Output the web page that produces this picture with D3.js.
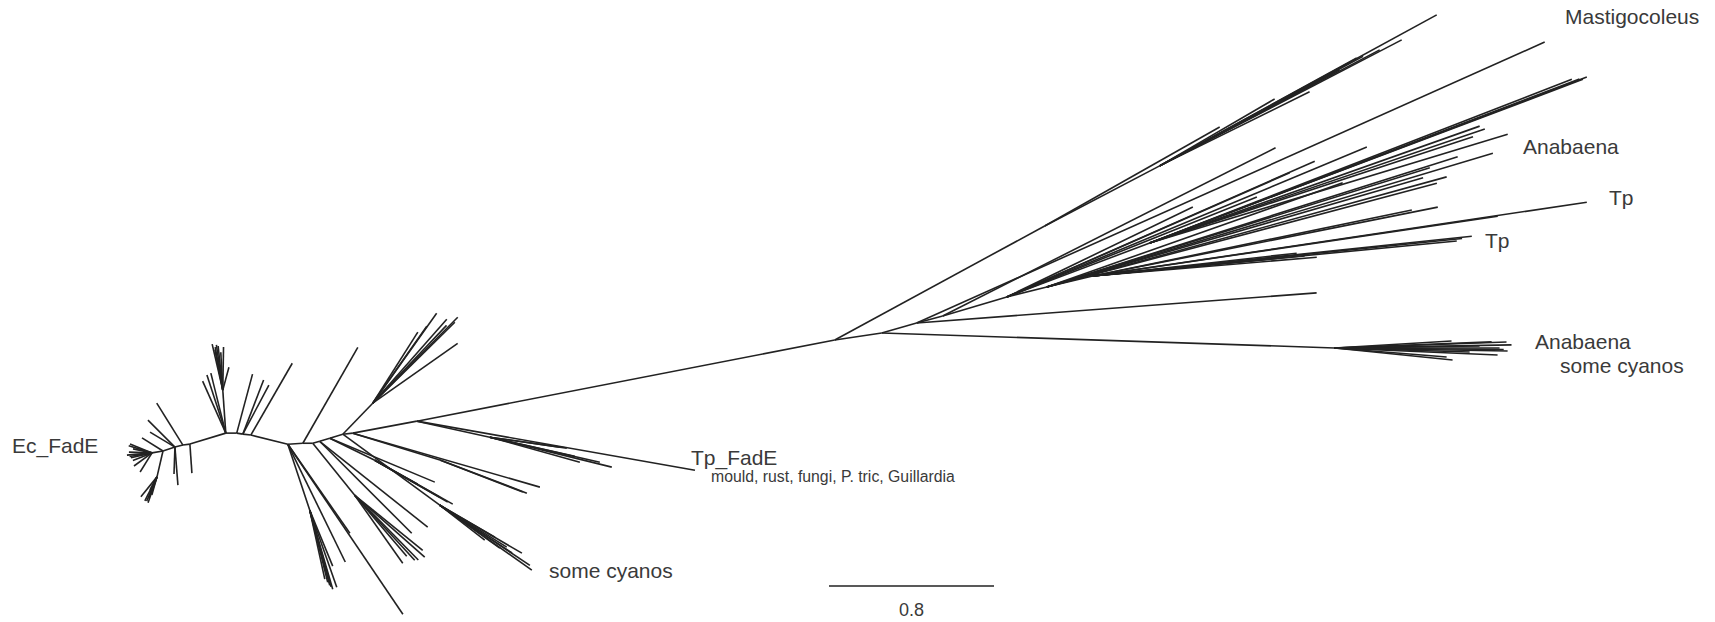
<!DOCTYPE html>
<html>
<head>
<meta charset="utf-8">
<script src="https://cdn.jsdelivr.net/npm/d3@7"></script>
<style>
  body { margin: 0; background: #fff; }
  svg { display: block; }
  .branch { stroke: #222; stroke-width: 1.6; stroke-linecap: butt; fill: none; }
  .lbl { font-family: "Liberation Sans", Arial, sans-serif; fill: #3a3a3a; }
</style>
</head>
<body>
<svg id="chart"></svg>
<script>
// branches: [id, parent, branch length, direction in degrees]
var backbone = [
  ["b0", null, 0, 0],
  ["b1", "b0", 0.054, -10],
  ["b2", "b1", 0.061, -18],
  ["b3", "b2", 0.040, -14],
  ["b4", "b3", 0.034, -8],
  ["b5", "b4", 0.182, -17],
  ["b6", "b5", 0.053, 0],
  ["b7", "b6", 0.030, 9],
  ["b8", "b7", 0.039, 7],
  ["b9", "b8", 0.185, 14],
  ["b10", "b9", 0.073, -4],
  ["b11", "b10", 0.048, 0],
  ["b12", "b11", 0.035, -16],
  ["b13", "b12", 0.051, -17],
  ["b14", "b13", 0.066, -17],
  ["b15", "b14", 0.049, -6],
  ["b16", "b15", 0.316, -10.6],
  ["r0", "b16", 2.064, -11.0],
  ["r1", "r0", 0.230, -8.5],
  ["r2", "r1", 0.176, -15.9],
  ["r3", "r2", 0.131, -15.1],
  ["r4", "r3", 0.324, -16.5],
  ["r5", "r4", 0.200, -14.0],
  ["r6", "r5", 0.229, -13.4]
]

var ecClade = [
  ["ec1", "b0", 0.115, -158],
  ["ec2", "b0", 0.112, -178],
  ["ec3", "b0", 0.105, 167],
  ["ec4", "b0", 0.108, 144],
  ["ec5", "b0", 0.109, 122],
  ["ec6", "b0", 0.094, -168],
  ["ec7", "b0", 0.122, 175],
  ["ec15", "b0", 0.118, -163],
  ["ec16", "b0", 0.110, 171],
  ["ec17", "b0", 0.100, 158],
  ["ed", "b1", 0.129, 103],
  ["ed1", "ed", 0.130, 117],
  ["ed2", "ed", 0.133, 109],
  ["ed3", "ed", 0.091, 106],
  ["ed4", "ed", 0.072, 118],
  ["ed5", "ed", 0.124, 129],
  ["ed6", "ed", 0.128, 113],
  ["ed7", "ed", 0.112, 111],
  ["ec8", "b1", 0.120, -148],
  ["ec9", "b2", 0.185, -135],
  ["ec10", "b2", 0.141, -149],
  ["ec11", "b2", 0.185, 85.5],
  ["ec12", "b2", 0.131, 92],
  ["ec13", "b3", 0.240, -122],
  ["ec14", "b4", 0.141, 86]
]

var upperLeft = [
  ["u1", "b5", 0.209, -94],
  ["u11", "u1", 0.229, -103],
  ["u12", "u1", 0.212, -100],
  ["u13", "u1", 0.215, -96],
  ["u14", "u1", 0.209, -89],
  ["u15", "u1", 0.184, -93],
  ["u16", "u1", 0.115, -75],
  ["u17", "u1", 0.222, -98],
  ["u18", "u1", 0.200, -101],
  ["u2", "b5", 0.276, -114],
  ["u3", "b5", 0.296, -108],
  ["u4", "b5", 0.300, -104],
  ["u5", "b6", 0.296, -75],
  ["u6", "b7", 0.281, -69],
  ["u7", "b7", 0.269, -62],
  ["u8", "b8", 0.402, -60],
  ["f2", "b10", 0.536, -60.2],
  ["f1", "b14", 0.209, -46],
  ["f11", "f1", 0.535, -54.6],
  ["f12", "f1", 0.408, -57.6],
  ["f13", "f1", 0.543, -48.6],
  ["f14", "f1", 0.586, -45.3],
  ["f15", "f1", 0.559, -44.6],
  ["f16", "f1", 0.504, -35.2],
  ["f17", "f1", 0.456, -54.9],
  ["f18", "f1", 0.520, -46.5]
]

var lowerFan = [
  ["l1", "b9", 0.337, 71.6],
  ["l11", "l1", 0.342, 77.7],
  ["l12", "l1", 0.376, 75.1],
  ["l13", "l1", 0.399, 73.8],
  ["l14", "l1", 0.396, 70.7],
  ["l15", "l1", 0.360, 76],
  ["l16", "l1", 0.293, 67.7],
  ["l17", "l1", 0.385, 74.5],
  ["l2", "b9", 0.635, 64],
  ["l3", "b9", 0.995, 55.9],
  ["l4", "b9", 0.526, 55.1],
  ["m1", "b11", 0.324, 51.1],
  ["m11", "m1", 0.404, 54.8],
  ["m12", "m1", 0.389, 49.6],
  ["m13", "m1", 0.429, 47.3],
  ["m14", "m1", 0.453, 41.5],
  ["m15", "m1", 0.424, 39],
  ["m18", "m1", 0.440, 45.5],
  ["m16", "b12", 0.669, 38.5],
  ["m17", "b12", 0.631, 45],
  ["c4", "b13", 0.243, 26.1],
  ["c41", "c4", 0.239, 29.2],
  ["c42", "c4", 0.434, 29.4],
  ["c43", "c4", 0.408, 29.9],
  ["c44", "c4", 0.363, 29.6],
  ["c45", "b13", 0.552, 22.7],
  ["s1", "b14", 0.583, 36.2],
  ["s11", "s1", 0.546, 35.2],
  ["s12", "s1", 0.525, 33.7],
  ["s13", "s1", 0.461, 30.3],
  ["s14", "s1", 0.358, 35.6],
  ["s15", "s1", 0.383, 32.1],
  ["s16", "s1", 0.276, 37.9],
  ["s17", "s1", 0.309, 30.2],
  ["s18", "s1", 0.420, 33.5],
  ["c6", "b15", 0.442, 17.2],
  ["c61", "c6", 0.451, 20.8],
  ["c62", "c6", 0.431, 21.1],
  ["c63", "b15", 0.944, 16.1]
]

var tpFadE = [
  ["tpf", "b16", 1.369, 10.0],
  ["t1", "b16", 0.362, 12.4],
  ["t11", "t1", 0.377, 8.1],
  ["t12", "t1", 0.453, 15.5],
  ["t13", "t1", 0.547, 12.8],
  ["t14", "t1", 0.609, 13.8],
  ["t15", "t1", 0.343, 8.1],
  ["t16", "t1", 0.422, 12.6]
]

var mastigo = [
  ["M1", "r0", 1.158, -28.5],
  ["M2", "M1", 0.629, -27.6],
  ["M21", "M2", 1.530, -28.6],
  ["M22", "M2", 1.323, -27.5],
  ["M23", "M2", 1.089, -28.7],
  ["M24", "M2", 0.811, -26.3],
  ["M25", "M2", 0.645, -30.2],
  ["M26", "M2", 1.206, -27.8],
  ["M27", "M2", 0.989, -28.1],
  ["M28", "M2", 1.120, -28.3],
  ["M11", "M1", 0.975, -29.5]
]

var anabaenaLow = [
  ["A1", "r1", 2.197, 1.9],
  ["A11", "A1", 0.858, -1.0],
  ["A12", "A1", 0.834, -2.0],
  ["A13", "A1", 0.839, 1.0],
  ["A14", "A1", 0.791, 2.5],
  ["A15", "A1", 0.575, 5.8],
  ["A16", "A1", 0.545, 4.6],
  ["A17", "A1", 0.762, -2.2],
  ["A18", "A1", 0.568, -3.4],
  ["A19", "A1", 0.800, 0],
  ["A110", "A1", 0.703, -0.8],
  ["A111", "A1", 0.655, 1.7],
  ["A112", "A1", 0.820, 0.5]
]

var anabaenaTp = [
  ["r2a", "r2", 1.945, -4.3],
  ["r2b", "r2", 3.336, -24.1],
  ["r3a", "r3", 1.808, -26.8],
  ["A2", "r4", 0.741, -20.7],
  ["A21", "A2", 2.267, -20.8],
  ["A22", "A2", 2.245, -20.7],
  ["A23", "A2", 2.195, -21.2],
  ["A27", "A2", 2.230, -20.9],
  ["A24", "A2", 1.697, -19.5],
  ["A25", "A2", 1.716, -18.8],
  ["A26", "A2", 1.814, -16.9],
  ["A28", "A2", 1.650, -18.2],
  ["r4a", "r4", 1.891, -22.6],
  ["r4b", "r4", 1.632, -23.8],
  ["r4c", "r4", 1.498, -23.7],
  ["r4d", "r4", 1.306, -21.8],
  ["r4e", "r4", 1.002, -25.8],
  ["r5a", "r5", 2.258, -16.7],
  ["r5b", "r5", 2.090, -17.6],
  ["r5c", "r5", 2.011, -15.4],
  ["r5d", "r5", 1.957, -14.9],
  ["r5e", "r5", 1.945, -17.3],
  ["r5f", "r5", 1.521, -19.4],
  ["r5g", "r5", 1.900, -16.2],
  ["r6a", "r6", 2.422, -8.5],
  ["r6b", "r6", 1.985, -8.4],
  ["r6c", "r6", 1.706, -11.3],
  ["r6d", "r6", 1.580, -11.7],
  ["r6e", "r6", 1.848, -6.0],
  ["r6f", "r6", 1.773, -5.5],
  ["r6g", "r6", 1.090, -4.8],
  ["r6h", "r6", 0.995, -6.4],
  ["r6i", "r6", 1.032, -5.4],
  ["r6j", "r6", 0.911, -5.5],
  ["r6k", "r6", 1.800, -5.8]
]

var labelTexts = ["Mastigocoleus", "Anabaena", "Tp", "Tp", "Anabaena", "some cyanos",
  "Ec_FadE", "Tp_FadE", "mould, rust, fungi, P. tric, Guillardia", "some cyanos"]
var scaleBarValue = 0.8

var width = 1715
var height = 622

var svg = d3.select("#chart")
    .attr("width", width)
    .attr("height", height)

// 165 px per 0.8 units, tree root placed left of centre
var xScale = d3.scaleLinear().domain([-0.737, 7.578]).range([0, width])
var yScale = d3.scaleLinear().domain([-2.196, 0.820]).range([0, height])

var table = [].concat(backbone, ecClade, upperLeft, lowerFan, tpFadE, mastigo, anabaenaLow, anabaenaTp)
  .map(d => ({id: d[0], parentId: d[1], len: d[2], ang: d[3]}))

var root = d3.stratify().id(d => d.id).parentId(d => d.parentId)(table)

root.each(n => {
  if (!n.parent) { n.ux = 0; n.uy = 0; return }
  var a = n.data.ang * Math.PI / 180
  n.ux = n.parent.ux + n.data.len * Math.cos(a)
  n.uy = n.parent.uy + n.data.len * Math.sin(a)
})

svg.append("g")
  .selectAll("line")
  .data(root.links())
  .enter().append("line")
  .attr("class", "branch")
  .attr("x1", d => xScale(d.source.ux))
  .attr("y1", d => yScale(d.source.uy))
  .attr("x2", d => xScale(d.target.ux))
  .attr("y2", d => yScale(d.target.uy))

// label placement
var labelPos = [
  [1565, 24, 21], [1523, 154, 21], [1609, 205, 21], [1485, 248, 21],
  [1535, 349, 21], [1560, 373, 21], [12, 453, 21], [691, 465, 21],
  [711, 482, 15.8], [549, 578, 21]
]

svg.append("g")
  .selectAll("text")
  .data(labelTexts)
  .enter().append("text")
  .attr("class", "lbl")
  .attr("x", (d, i) => labelPos[i][0])
  .attr("y", (d, i) => labelPos[i][1])
  .style("font-size", (d, i) => labelPos[i][2] + "px")
  .text(d => d)

// scale bar
var barX = 829, barY = 586
var barLen = xScale(scaleBarValue) - xScale(0)
svg.append("line")
  .attr("class", "branch")
  .attr("x1", barX).attr("y1", barY)
  .attr("x2", barX + barLen).attr("y2", barY)
svg.append("text")
  .attr("class", "lbl")
  .attr("x", barX + barLen / 2)
  .attr("y", 616)
  .attr("text-anchor", "middle")
  .style("font-size", "18px")
  .text(scaleBarValue)
</script>
</body>
</html>
